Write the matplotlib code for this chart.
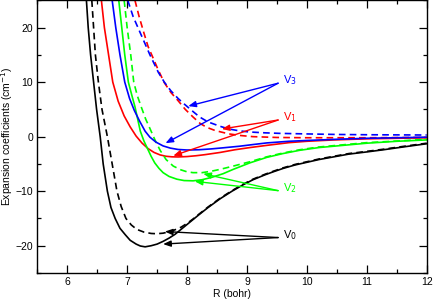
import numpy as np
from matplotlib import pyplot as plt

plt.rcParams['font.family'] = ['Liberation Sans', 'DejaVu Sans']

# curves: R (bohr), coefficient (cm^-1)
R_v0 = [6.32, 6.35, 6.39, 6.44, 6.49, 6.55, 6.60, 6.67, 6.73, 6.80, 6.88, 6.97, 7.05, 7.15, 7.22, 7.30,
        7.40, 7.50, 7.60, 7.70, 7.80, 7.90, 8.00, 8.10, 8.20, 8.35, 8.55, 8.75, 8.94, 9.10, 9.30, 9.45,
        9.61, 9.80, 10.0, 10.2, 10.45, 10.7, 11.0, 11.28, 11.6, 12.0]
V0 = [25, 20, 15, 10, 5, 0, -5, -10, -13, -15, -16.8, -18, -19, -19.7, -20.05, -20.2,
      -20.0, -19.7, -19.2, -18.6, -17.9, -17.0, -16.1, -15.2, -14.3, -13.0, -11.4, -10.0, -8.8, -7.9, -7.0, -6.4,
      -5.8, -5.2, -4.7, -4.2, -3.7, -3.2, -2.8, -2.4, -1.9, -1.3]
R_v0d = [6.41, 6.44, 6.47, 6.52, 6.58, 6.67, 6.75, 6.83, 6.90, 6.98, 7.07, 7.16, 7.28, 7.40, 7.49, 7.60,
         7.75, 7.90, 8.00, 8.10, 8.20, 8.35, 8.55, 8.75, 8.94, 9.10, 9.30, 9.45, 9.61, 9.80, 10.0, 10.2,
         10.45, 10.7, 11.0, 11.28, 11.6, 12.0]
V0d = [25, 20, 15, 10, 5, 0, -5, -10, -12.8, -15, -16.2, -17, -17.5, -17.75, -17.8, -17.7,
       -17.3, -16.6, -15.9, -15.1, -14.2, -12.9, -11.3, -9.9, -8.7, -7.8, -6.9, -6.3, -5.7, -5.1, -4.6, -4.1,
       -3.6, -3.1, -2.7, -2.3, -1.8, -1.2]

R_v1 = [6.57, 6.62, 6.69, 6.76, 6.85, 6.95, 7.05, 7.15, 7.25, 7.35, 7.45, 7.55, 7.65, 7.75, 7.85, 8.0,
        8.15, 8.3, 8.55, 8.8, 9.05, 9.33, 9.7, 10.0, 10.45, 11.0, 11.5, 12.0]
V1 = [25, 20, 15, 10, 6.5, 3.8, 1.8, 0.1, -1.2, -2.2, -2.9, -3.35, -3.6, -3.7, -3.72, -3.65,
      -3.5, -3.3, -2.9, -2.4, -2.0, -1.6, -1.1, -0.85, -0.6, -0.4, -0.3, -0.2]
R_v1d = [7.13, 7.20, 7.28, 7.35, 7.41, 7.52, 7.62, 7.73, 7.85, 7.97, 8.10, 8.22, 8.33, 8.45, 8.55, 8.70,
         8.90, 9.10, 9.50, 10.0, 10.5, 11.0, 12.0]
V1d = [25, 22, 19, 16.5, 15, 12.2, 9.9, 8.1, 6.6, 5.0, 3.6, 2.4, 1.7, 1.2, 0.9, 0.5,
       0.2, 0.0, -0.15, -0.2, -0.2, -0.2, -0.15]

R_v2 = [6.86, 6.91, 6.96, 7.02, 7.08, 7.13, 7.18, 7.22, 7.28, 7.34, 7.40, 7.46, 7.53, 7.60, 7.70, 7.83,
        7.95, 8.10, 8.25, 8.40, 8.60, 8.77, 9.05, 9.33, 9.60, 9.88, 10.2, 10.6, 11.0, 11.5, 12.0]
V2 = [25, 20, 15, 10, 7.5, 5.5, 3, 1, -0.8, -2.2, -3.6, -4.8, -5.8, -6.6, -7.3, -7.8,
      -8.05, -8.1, -7.9, -7.5, -6.8, -6.0, -4.8, -3.8, -3.1, -2.5, -2.0, -1.6, -1.2, -0.85, -0.6]
R_v2d = [6.95, 7.00, 7.06, 7.11, 7.17, 7.24, 7.31, 7.38, 7.46, 7.55, 7.65, 7.77, 7.90, 8.00, 8.10, 8.25,
         8.40, 8.55, 8.77, 9.05, 9.33, 9.60, 9.88, 10.2, 10.6, 11.0, 11.5, 12.0]
V2d = [25, 20, 15, 10, 7.5, 5.3, 3.2, 1.5, -0.5, -2.5, -4.2, -5.4, -6.1, -6.45, -6.6, -6.6,
       -6.35, -6.0, -5.4, -4.6, -3.7, -3.0, -2.4, -1.9, -1.5, -1.1, -0.8, -0.5]

R_v3 = [6.75, 6.81, 6.88, 6.96, 7.04, 7.12, 7.21, 7.30, 7.38, 7.48, 7.60, 7.72, 7.85, 8.0, 8.2, 8.4,
        8.6, 8.88, 9.1, 9.33, 9.7, 10.0, 10.45, 11.0, 11.5, 12.0]
V3 = [25, 20, 15, 10, 7, 4.8, 2.8, 1.0, -0.1, -1.0, -1.7, -2.1, -2.35, -2.45, -2.4, -2.25,
      -2.05, -1.75, -1.45, -1.15, -0.85, -0.7, -0.5, -0.3, -0.2, -0.1]
R_v3d = [7.01, 7.10, 7.20, 7.30, 7.38, 7.52, 7.62, 7.73, 7.85, 7.94, 8.10, 8.21, 8.35, 8.55, 8.70, 8.88,
         9.05, 9.30, 9.55, 10.0, 10.5, 11.0, 12.0]
V3d = [25, 22, 19.5, 17, 15, 11.8, 10.0, 8.4, 7.0, 6.1, 4.6, 3.6, 2.7, 1.9, 1.4, 1.05,
       0.85, 0.7, 0.6, 0.5, 0.4, 0.35, 0.3]

# labels and arrow targets
names = ['V$_3$', 'V$_1$', 'V$_2$', 'V$_0$']
colors = ['blue', 'red', '#00ff00', 'black']
label_y = [10.3, 3.5, -9.4, -18.1]
tail_y = [9.8, 3.05, -9.9, -18.5]
tips = [[(8.02, 5.6), (7.64, -1.2)],
        [(8.58, 1.4), (7.77, -3.5)],
        [(8.27, -6.8), (8.13, -8.2)],
        [(7.63, -17.4), (7.60, -19.7)]]

fig = plt.figure(figsize=(4.33, 3.0), dpi=100)
ax = fig.add_axes([0.0861, 0.09, 0.8994, 0.909])

dash = (0, (4, 2.5))
lw = 1.2
ax.plot(R_v0, V0, color='black', lw=lw)
ax.plot(R_v0d, V0d, color='black', lw=lw, ls=dash)
ax.plot(R_v1, V1, color='red', lw=lw)
ax.plot(R_v1d, V1d, color='red', lw=lw, ls=dash)
ax.plot(R_v2, V2, color='#00ff00', lw=lw)
ax.plot(R_v2d, V2d, color='#00ff00', lw=lw, ls=dash)
ax.plot(R_v3, V3, color='blue', lw=lw)
ax.plot(R_v3d, V3d, color='blue', lw=lw, ls=dash)

for name, c, ly, ty, tp in zip(names, colors, label_y, tail_y, tips):
    ax.text(9.6, ly, name, color=c, fontsize=8, ha='left', va='center')
    for t in tp:
        ax.annotate('', xy=t, xytext=(9.52, ty),
                    arrowprops=dict(arrowstyle='-|>,head_length=0.45,head_width=0.18',
                                    color=c, lw=1.0, shrinkA=0, shrinkB=0))

ax.set_xlim(5.5, 12)
ax.set_ylim(-25, 25)
ax.set_xticks(np.arange(6, 13, 1))
ax.set_xticks(np.arange(5.5, 12.01, 0.5), minor=True)
ax.set_yticks([-20, -10, 0, 10, 20])
ax.set_yticks(np.arange(-25, 25.1, 5), minor=True)
ax.tick_params(which='both', direction='in', top=True, right=True, labelsize=7.5, pad=3)
ax.tick_params(which='major', length=5.5, width=0.9)
ax.tick_params(which='minor', length=3, width=0.9)
for s in ax.spines.values():
    s.set_linewidth(1.0)

ax.set_xlabel('R (bohr)', fontsize=7.5, labelpad=1)
ax.set_ylabel('Expansion coefficients (cm$^{-1}$)', fontsize=7.5)
ax.yaxis.set_label_coords(-0.058, 0.5)

fig.savefig('out.png', dpi=100)
